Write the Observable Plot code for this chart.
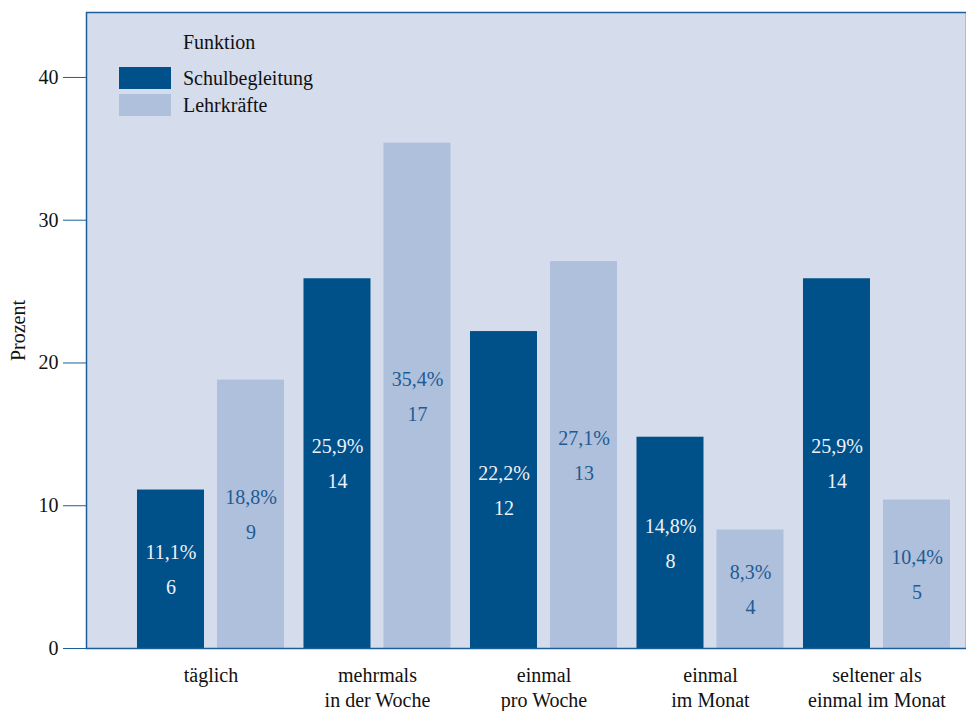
<!DOCTYPE html>
<html>
<head>
<meta charset="utf-8">
<script src="https://cdn.jsdelivr.net/npm/d3@7"></script>
<script src="https://cdn.jsdelivr.net/npm/@observablehq/plot@0.6"></script>
</head>
<body style="margin:0;padding:0;background:#ffffff">
<div id="wrap" style="position:relative;width:966px;height:711px"></div>
<script>
const categories = ["täglich", "mehrmals\nin der Woche", "einmal\npro Woche", "einmal\nim Monat", "seltener als\neinmal im Monat"];
const seriesNames = ["Schulbegleitung", "Lehrkräfte"];
const schulPct = [11.1, 25.9, 22.2, 14.8, 25.9];
const schulN = [6, 14, 12, 8, 14];
const lehrPct = [18.8, 35.4, 27.1, 8.3, 10.4];
const lehrN = [9, 17, 13, 4, 5];
const yTicks = [0, 10, 20, 30, 40];

const FONT = '"Liberation Serif", "Times New Roman", serif';
const colors = {dark: "#00508a", light: "#aec0dc", bg: "#d5dcec", line: "#1c5f9c", lightText: "#1e5b94", darkText: "#eef2f8"};

const fmt = v => v.toFixed(1).replace(".", ",") + "%";
const schul = categories.map((c, i) => ({cat: c, pct: schulPct[i], n: schulN[i], label: fmt(schulPct[i]) + "\n" + schulN[i]}));
const lehr = categories.map((c, i) => ({cat: c, pct: lehrPct[i], n: lehrN[i], label: fmt(lehrPct[i]) + "\n" + lehrN[i]}));

const chart = Plot.plot({
  width: 966,
  height: 711,
  marginLeft: 86,
  marginRight: 0,
  marginTop: 12,
  marginBottom: 63,
  style: {fontFamily: FONT, fontSize: "20px", color: "#111", background: "transparent"},
  x: {domain: categories, paddingInner: 0.1171, paddingOuter: 0.2012, align: 0.761, round: false},
  y: {domain: [0, 44.55]},
  marks: [
    Plot.frame({fill: colors.bg}),
    Plot.barY(schul, {x: "cat", y: "pct", fill: colors.dark, insetRight: 80, insetLeft: 0}),
    Plot.barY(lehr, {x: "cat", y: "pct", fill: colors.light, insetLeft: 80, insetRight: 0}),
    Plot.text(schul, {x: "cat", y: d => d.pct / 2, text: "label", dx: -40, dy: -4, fill: colors.darkText, fontSize: 20, fontFamily: FONT, lineHeight: 1.75}),
    Plot.text(lehr, {x: "cat", y: d => d.pct / 2, text: "label", dx: 40, dy: -4, fill: colors.lightText, fontSize: 20, fontFamily: FONT, lineHeight: 1.75}),
    Plot.frame({stroke: colors.line, strokeWidth: 1.5}),
    Plot.axisY({ticks: yTicks, tickSize: 23, tickPadding: 5, stroke: colors.line, fill: "#111", fontSize: 20, fontFamily: FONT,
      label: "Prozent", labelAnchor: "center", labelOffset: 76, labelArrow: "none"}),
    Plot.axisX({tickSize: 0, tickPadding: 16, fill: "#111", fontSize: 20, fontFamily: FONT, lineHeight: 1.25, label: null})
  ]
});
chart.style.fontFamily = FONT;
chart.querySelectorAll("text").forEach(t => t.style.fontFamily = FONT);

const wrap = document.getElementById("wrap");
wrap.appendChild(chart);

const legend = document.createElement("div");
Object.assign(legend.style, {position: "absolute", left: "119px", top: "28px", fontSize: "20px", color: "#111", fontFamily: FONT});
const title = document.createElement("div");
Object.assign(title.style, {marginLeft: "64px", lineHeight: "28px", marginBottom: "11px", fontFamily: FONT});
title.textContent = "Funktion";
legend.appendChild(title);
[colors.dark, colors.light].forEach((c, i) => {
  const row = document.createElement("div");
  Object.assign(row.style, {display: "flex", alignItems: "center", height: "22px", marginBottom: "5px"});
  const sw = document.createElement("div");
  Object.assign(sw.style, {width: "52px", height: "22px", marginRight: "12px", background: c});
  const t = document.createElement("span");
  t.style.fontFamily = FONT;
  t.textContent = seriesNames[i];
  row.appendChild(sw);
  row.appendChild(t);
  legend.appendChild(row);
});
wrap.appendChild(legend);
</script>
</body>
</html>
